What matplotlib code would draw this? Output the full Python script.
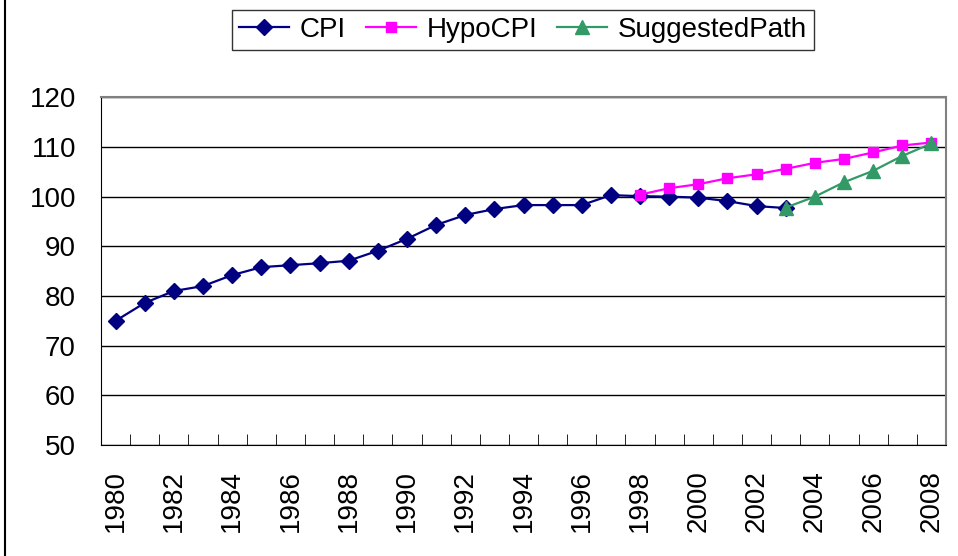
import matplotlib.pyplot as plt
import numpy as np
from matplotlib.lines import Line2D

plt.rcParams['font.family'] = ['Liberation Sans', 'DejaVu Sans']

years = list(range(1980, 2009))
cpi = [75.0, 78.6, 81.0, 82.0, 84.2, 85.8, 86.2, 86.6, 87.1, 89.1, 91.5, 94.3,
       96.3, 97.5, 98.3, 98.3, 98.3, 100.3, 100.1, 100.0, 99.8, 99.1, 98.1, 97.7]
hypo_years = list(range(1998, 2009))
hypo = [100.4, 101.7, 102.5, 103.7, 104.5, 105.6, 106.8, 107.6, 108.9, 110.3, 110.9]
sugg_years = list(range(2003, 2009))
sugg = [97.8, 100.0, 102.9, 105.2, 108.2, 110.7]

fig = plt.figure(figsize=(9.58, 5.56), dpi=100)
ax = fig.add_axes([101/958, (556-445)/556, (946-101)/958, (445-97.3)/556])

x0 = years[0]
ax.plot([y - x0 for y in years[:len(cpi)]], cpi, color='#000080', lw=1.6,
        marker='D', ms=8, label='CPI')
ax.plot([y - x0 for y in hypo_years], hypo, color='#FF00FF', lw=1.6,
        marker='s', ms=7.5, label='HypoCPI')
ax.plot([y - x0 for y in sugg_years], sugg, color='#339966', lw=1.6,
        marker='^', ms=10, label='SuggestedPath')

ax.set_xlim(-0.5, len(years) - 0.5)
ax.set_ylim(50, 120)
ax.set_yticks(range(50, 121, 10))
ax.yaxis.grid(True, color='black', lw=1)
ax.set_axisbelow(True)
ax.tick_params(axis='y', length=0, pad=18, labelsize=20)

ax.set_xticks(np.arange(0, len(years), 2))
ax.set_xticklabels([str(y) for y in years[::2]], rotation=90)
ax.set_xticks(np.arange(-0.5, len(years), 1), minor=True)
ax.tick_params(axis='x', which='major', length=0, pad=18, labelsize=20)
ax.tick_params(axis='x', which='minor', direction='in', length=8, color='black')

for s in ['left', 'bottom']:
    ax.spines[s].set_color('black')
for s in ['top', 'right']:
    ax.spines[s].set_color('#808080')
    ax.spines[s].set_linewidth(1.5)

leg = fig.legend(loc='center', bbox_to_anchor=(523/958, (556-30)/556), ncol=3,
                 fontsize=20, frameon=True, fancybox=False, handlelength=1.8,
                 columnspacing=0.7, handletextpad=0.4, borderpad=0.25)
leg.get_frame().set_edgecolor('black')
leg.get_frame().set_linewidth(1)

fig.add_artist(Line2D([5/958, 5/958], [0, 1], color='black', lw=1.5,
                      transform=fig.transFigure))

fig.savefig('out.png', dpi=100)
